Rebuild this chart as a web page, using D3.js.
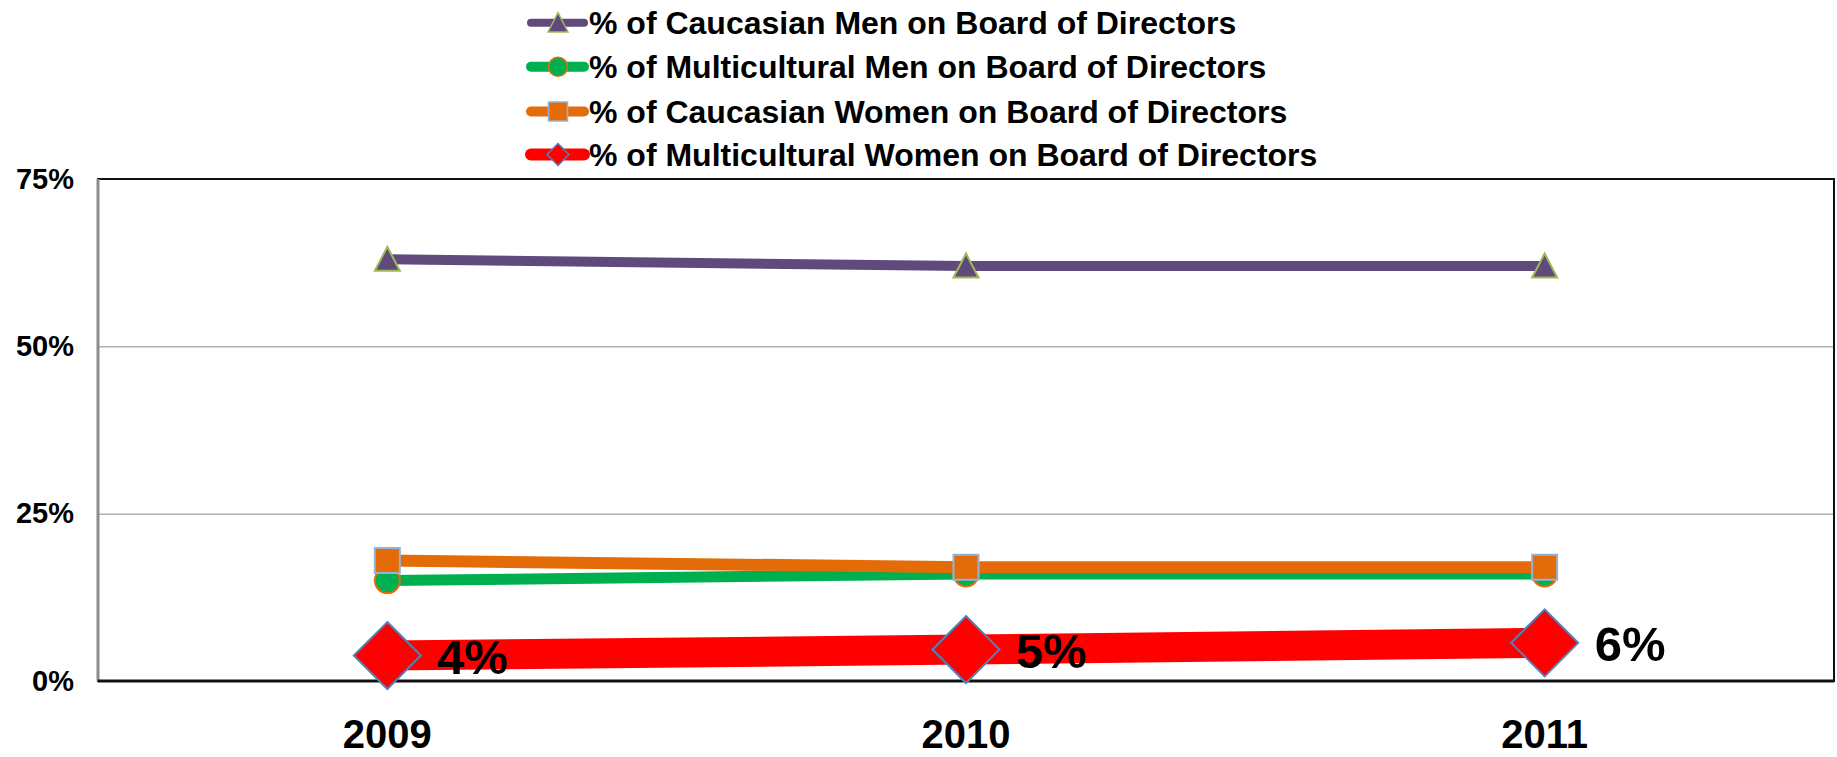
<!DOCTYPE html>
<html>
<head>
<meta charset="utf-8">
<script src="https://cdn.jsdelivr.net/npm/d3@7"></script>
<style>
  body { margin: 0; background: #fff; }
  svg { display: block; font-family: "Liberation Sans", Arial, sans-serif; font-weight: bold; }
</style>
</head>
<body>
<svg id="chart" width="1837" height="757"></svg>
<script>
// data
const years = ["2009", "2010", "2011"];
const seriesNames = [
  "% of Caucasian Men on Board of Directors",
  "% of Multicultural Men on Board of Directors",
  "% of Caucasian Women on Board of Directors",
  "% of Multicultural Women on Board of Directors"
];
const caucasianMen = [0.63, 0.62, 0.62];
const multiculturalMen = [0.15, 0.16, 0.16];
const caucasianWomen = [0.18, 0.17, 0.17];
const multiculturalWomen = [0.038, 0.047, 0.057];
const yTicks = [0, 0.25, 0.5, 0.75];

// looks of each series (excel style)
const looks = [
  { line: "#604a7b", width: 10, fill: "#604a7b", stroke: "#9bbb59", shape: "tri", r: 12.5, legW: 8 },
  { line: "#00b050", width: 11, fill: "#00b050", stroke: "#e46c0a", shape: "circle", r: 12.5, legW: 10 },
  { line: "#e36c09", width: 12, fill: "#e36c09", stroke: "#95b3d7", shape: "square", r: 12.5, legW: 10 },
  { line: "#ff0000", width: 30, fill: "#ff0000", stroke: "#4f81bd", shape: "diamond", r: 33.5, legW: 12 }
];
const allValues = [caucasianMen, multiculturalMen, caucasianWomen, multiculturalWomen];

const svg = d3.select("#chart");
const margin = { top: 179, right: 3, bottom: 76, left: 98 };
const W = 1837, H = 757;

const x = d3.scaleBand().domain(years).range([margin.left, W - margin.right]).padding(0);
const y = d3.scaleLinear().domain([0, 0.75]).range([H - margin.bottom, margin.top]);

// gridlines + y labels
const yAxis = svg.append("g")
  .attr("transform", `translate(${margin.left},0)`)
  .call(d3.axisLeft(y).tickValues(yTicks).tickFormat(d3.format(".0%"))
    .tickSize(-(W - margin.left - margin.right)).tickPadding(24));
yAxis.select(".domain").remove();
yAxis.selectAll(".tick line").attr("stroke", "#8c8c8c").attr("stroke-width", 1);
yAxis.selectAll(".tick text").attr("font-size", 29).attr("fill", "#000")
  .attr("font-family", "Liberation Sans, Arial, sans-serif").attr("font-weight", "bold");

// plot border
svg.append("rect")
  .attr("x", margin.left).attr("y", margin.top)
  .attr("width", W - margin.left - margin.right).attr("height", y(0) - margin.top)
  .attr("fill", "none").attr("stroke", "#111").attr("stroke-width", 2);
svg.append("line")
  .attr("x1", margin.left).attr("x2", margin.left)
  .attr("y1", margin.top).attr("y2", y(0))
  .attr("stroke", "#8c8c8c").attr("stroke-width", 3);
svg.append("line")
  .attr("x1", margin.left).attr("x2", W - margin.right)
  .attr("y1", y(0)).attr("y2", y(0))
  .attr("stroke", "#111").attr("stroke-width", 3);

// x labels
const xAxis = svg.append("g")
  .attr("transform", `translate(0,${y(0)})`)
  .call(d3.axisBottom(x).tickSize(0));
xAxis.select(".domain").remove();
xAxis.selectAll(".tick text")
  .attr("y", 67).attr("dy", null)
  .attr("font-size", 40).attr("fill", "#000")
  .attr("font-family", "Liberation Sans, Arial, sans-serif").attr("font-weight", "bold");

function markerPath(shape, r) {
  if (shape === "tri") return `M0,${-r} L${r},${r * 0.92} L${-r},${r * 0.92} Z`;
  if (shape === "square") return `M${-r},${-r}H${r}V${r}H${-r}Z`;
  if (shape === "diamond") return `M0,${-r}L${r},0L0,${r}L${-r},0Z`;
  return d3.symbol(d3.symbolCircle, Math.PI * r * r)();
}

const cx = d => x(d) + x.bandwidth() / 2;
const line = d3.line().x(d => cx(d.year)).y(d => y(d.value));

allValues.forEach((vals, i) => {
  const lk = looks[i];
  const pts = years.map((yr, j) => ({ year: yr, value: vals[j] }));
  const g = svg.append("g");
  g.append("path").datum(pts)
    .attr("d", line).attr("fill", "none")
    .attr("stroke", lk.line).attr("stroke-width", lk.width);
  g.selectAll("path.mk").data(pts).enter().append("path")
    .attr("class", "mk")
    .attr("transform", d => `translate(${cx(d.year)},${y(d.value)})`)
    .attr("d", markerPath(lk.shape, lk.r))
    .attr("fill", lk.fill).attr("stroke", lk.stroke).attr("stroke-width", 2);
});

// data labels on the multicultural women series
svg.append("g").selectAll("text")
  .data(years.map((yr, j) => ({ year: yr, value: multiculturalWomen[j] })))
  .enter().append("text")
  .attr("x", d => cx(d.year) + 50)
  .attr("y", d => y(d.value) + 18)
  .attr("font-size", 49).attr("fill", "#000")
  .text(d => d3.format(".0%")(d.value));

// legend
const legend = svg.append("g");
const legRows = [22.7, 66.7, 111.5, 154.5];
seriesNames.forEach((name, i) => {
  const lk = looks[i];
  const row = legend.append("g").attr("transform", `translate(0,${legRows[i]})`);
  row.append("line").attr("x1", 531).attr("x2", 584).attr("y1", 0).attr("y2", 0)
    .attr("stroke", lk.line).attr("stroke-width", lk.legW).attr("stroke-linecap", "round");
  const lr = lk.shape === "diamond" ? 11 : (lk.shape === "tri" ? 10 : 9.5);
  row.append("path").attr("transform", "translate(558,0)")
    .attr("d", markerPath(lk.shape, lr))
    .attr("fill", lk.fill).attr("stroke", lk.stroke).attr("stroke-width", 1.5);
  row.append("text").attr("x", 589).attr("y", 11)
    .attr("font-size", 32).attr("fill", "#000").text(name);
});
</script>
</body>
</html>
